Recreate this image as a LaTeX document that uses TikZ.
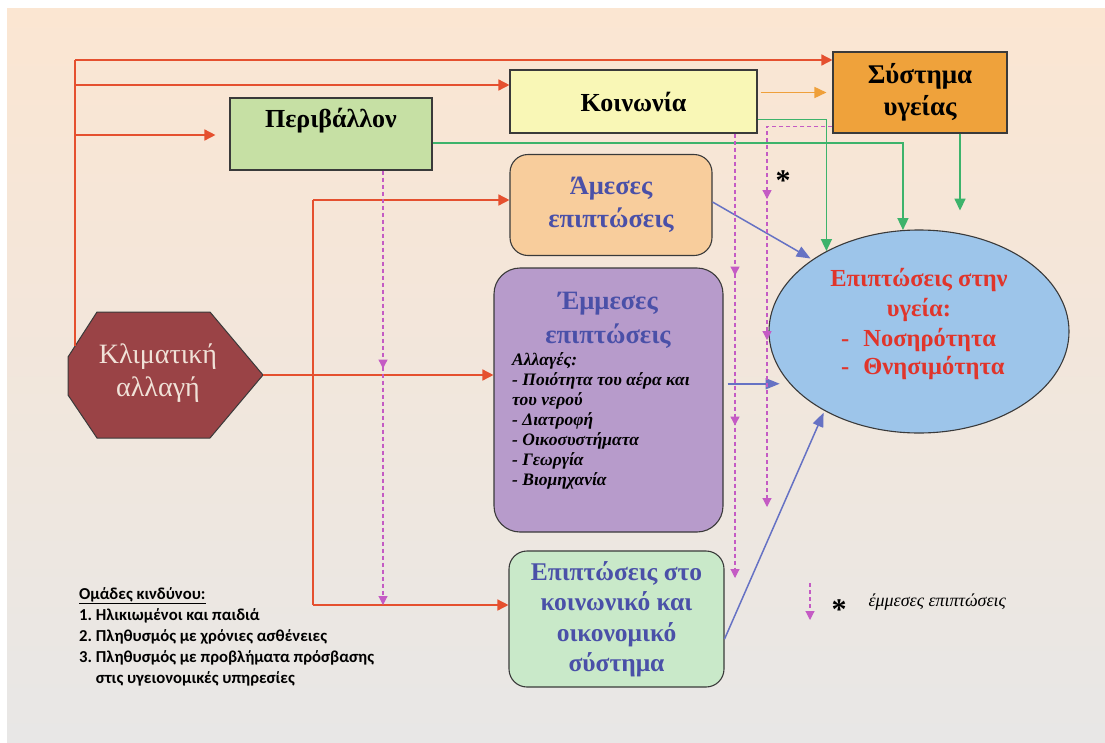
\documentclass[tikz,border=0pt]{standalone}
\usepackage{fontspec}
\setmainfont{Liberation Serif}
\newfontfamily\riskfont{Carlito}
\usetikzlibrary{arrows.meta,positioning,decorations.markings,calc,shapes.geometric}

\definecolor{bgtop}{HTML}{FBE6D2}
\definecolor{bgmid}{HTML}{F3EAE0}
\definecolor{bgbot}{HTML}{E8E7E6}
\definecolor{edgegray}{HTML}{3A3A3A}
\definecolor{linered}{HTML}{E5502F}
\definecolor{linegreen}{HTML}{3DB36B}
\definecolor{lineorange}{HTML}{EFA03A}
\definecolor{lineblue}{HTML}{6672C4}
\definecolor{dashpink}{HTML}{C45BC4}
\definecolor{perivfill}{HTML}{C6E0A4}
\definecolor{koinfill}{HTML}{F9F7B6}
\definecolor{sysfill}{HTML}{EFA23B}
\definecolor{amesafill}{HTML}{F8CD9C}
\definecolor{emmfill}{HTML}{B79BCB}
\definecolor{epiptfill}{HTML}{C9E9C9}
\definecolor{healthfill}{HTML}{9DC5EA}
\definecolor{climfill}{HTML}{9A4346}
\definecolor{climtext}{HTML}{F0E2D8}
\definecolor{titleblue}{HTML}{4A50A8}
\definecolor{healthred}{HTML}{E0352B}

\tikzset{
  dtip/.tip={Triangle[length=9pt,width=9pt]},
  box/.style={draw=edgegray, line width=1.1pt, align=center, inner sep=0pt,
    font=\bfseries\fontsize{26}{32}\selectfont},
  rbox/.style={box, rounded corners=18pt, text=titleblue,
    font=\bfseries\fontsize{26.5}{33}\selectfont},
  redarr/.style={draw=linered, line width=1.5pt, -{Triangle[length=11pt,width=11pt]}},
  redln/.style={draw=linered, line width=1.5pt},
  grarr/.style={draw=linegreen, line width=1.6pt, -{Triangle[length=12pt,width=11pt]}},
  bluarr/.style={draw=lineblue, line width=1.5pt, -{Triangle[length=14pt,width=11pt]}},
  dashln/.style={draw=dashpink, line width=1.1pt, dash pattern=on 4pt off 3pt, -dtip},
}

\begin{document}
\begin{tikzpicture}[x=1pt,y=-1pt]
  \useasboundingbox (0,0) rectangle (1105,742);
  \fill[white] (0,0) rectangle (1105,742);
  \shade[top color=bgtop, middle color=bgmid, bottom color=bgbot] (7,8) rectangle (1105,742);

  % boxes
  \node[box, fill=perivfill, minimum width=202, minimum height=72,
        text height=25pt, text depth=39pt] (periv) at (331,134) {Περιβάλλον};
  \node[box, fill=koinfill, minimum width=247, minimum height=63] (koin) at (633.5,101.5) {Κοινωνία};
  \node[box, fill=sysfill, minimum width=174, minimum height=81,
        font=\bfseries\fontsize{27}{32}\selectfont] (sys) at (920,92.5) {Σύστημα\\υγείας};
  \node[rbox, fill=amesafill, minimum width=202, minimum height=101] (amesa) at (611,205) {Άμεσες\\επιπτώσεις};
  \node[rbox, fill=emmfill, minimum width=229, minimum height=264, rounded corners=26pt] (emm) at (608.5,400) {};
  \node[text=titleblue, font=\bfseries\fontsize{26.5}{34}\selectfont, align=center] (emmtitle) at (608,320) {Έμμεσες\\επιπτώσεις};
  \node[anchor=west, inner sep=0pt, align=left, font=\bfseries\itshape\fontsize{17.5}{20}\selectfont] (emmlist) at (512,421)
    {Αλλαγές:\\- Ποιότητα του αέρα και\\του νερού\\- Διατροφή\\- Οικοσυστήματα\\- Γεωργία\\- Βιομηχανία};
  \node[rbox, fill=epiptfill, minimum width=215, minimum height=136, font=\bfseries\fontsize{25.5}{30.5}\selectfont]
    (epipt) at (616.5,619) {Επιπτώσεις στο\\κοινωνικό και\\οικονομικό\\σύστημα};

  % health outcomes
  \node[ellipse, draw=edgegray, line width=1.1pt, fill=healthfill, minimum width=300, minimum height=203,
        inner sep=0pt] (health) at (919,331.5) {};
  \node[text=healthred, font=\bfseries\fontsize{24.5}{30}\selectfont, align=center] (healthtop) at (919,295)
    {Επιπτώσεις στην\\υγεία:};
  \node[text=healthred, font=\bfseries\fontsize{24.5}{28}\selectfont, align=left, anchor=west, inner sep=0pt]
    (healthlist) at (841,353.5) {-\hspace{14pt}Νοσηρότητα\\-\hspace{14pt}Θνησιμότητα};

  % climate change
  \draw[draw=edgegray, line width=1pt, fill=climfill]
    (97,312) -- (210,312) -- (263,375) -- (210,438) -- (97,438) -- (68,395) -- (68,357) -- cycle;
  \node[text=climtext, font=\fontsize{28}{33}\selectfont, align=center] (clim) at (158,373) {Κλιματική\\αλλαγή};

  \coordinate (climtl) at (75,346);
  \coordinate (climr) at (263,375);
  \coordinate (trunka) at (75,60);
  \coordinate (trunkb) at (75,85);
  \coordinate (trunkc) at (75,135);
  \coordinate (brancht) at (313,200);
  \coordinate (branchb) at (313,605);

  % red
  \draw[redln] (climtl) -- (trunka);
  \draw[redarr] (trunka) -- (trunka -| sys.west);
  \draw[redarr] (trunkb) -- (trunkb -| koin.west);
  \draw[redarr, shorten >=14pt] (trunkc) -- (trunkc -| periv.west);
  \draw[redarr] (climr) -- (climr -| emm.west);
  \draw[redln] (brancht) -- (branchb);
  \draw[redarr] (brancht) -- (brancht -| amesa.west);
  \draw[redarr] (branchb) -- (branchb -| epipt.west);

  % green and orange
  \draw[grarr] ([yshift=-9pt]periv.east) -| (health.99);
  \draw[grarr] ([yshift=-18pt]koin.east) -| (health.139);
  \draw[grarr] ([xshift=40pt]sys.south) -- ++(0,77);
  \draw[draw=lineorange, line width=1.6pt, -{Triangle[length=12pt,width=11pt]}, shorten <=3pt, shorten >=6pt]
    (koin.east |- sys.west) -- (sys.west);

  % blue
  \draw[bluarr, shorten >=2pt] ([yshift=3pt]amesa.east) -- (health.146);
  \draw[bluarr, shorten >=10pt] ([xshift=4pt]emm.east |- health.202) -- (health.202);
  \draw[bluarr, shorten >=2pt] ([yshift=-20pt]epipt.east) -- (health.220);

  % indirect effects
  \coordinate (dashr) at (767,507);
  \coordinate (dashm) at (735,578);
  \coordinate (dashl) at (383,605);
  \draw[dashln, postaction={decorate}, decoration={markings,
      mark=at position 138pt with {\arrow{dtip}},
      mark=at position 279pt with {\arrow{dtip}}}]
    ([yshift=-34pt]sys.west) -| (dashr);
  \draw[dashln, postaction={decorate}, decoration={markings,
      mark=at position 142pt with {\arrow{dtip}},
      mark=at position 292pt with {\arrow{dtip}}}]
    ([xshift=101.5pt]koin.south) -- (dashm);
  \draw[dashln, postaction={decorate}, decoration={markings,
      mark=at position 198pt with {\arrow{dtip}}}]
    ([xshift=52pt]periv.south) -- (dashl);
  \node[font=\bfseries\fontsize{30}{30}\selectfont] (star) at (783,181) {*};

  % legend
  \coordinate (lega) at (810,583);
  \coordinate (legb) at (810,620);
  \draw[dashln] (lega) -- (legb);
  \node[font=\bfseries\fontsize{30}{30}\selectfont] (legstar) at (839,610) {*};
  \node[anchor=west, font=\itshape\fontsize{18}{18}\selectfont] (legtxt) at (865,602) {έμμεσες επιπτώσεις};

  % risk groups
  \node[anchor=west, inner sep=0pt, font=\riskfont\bfseries\fontsize{16.7}{21}\selectfont] (risk) at (79,637)
    {\begin{tabular}{@{}l@{\ }l@{}}
      \multicolumn{2}{@{}l}{\underline{Ομάδες κινδύνου:}}\\
      1. & Ηλικιωμένοι και παιδιά\\
      2. & Πληθυσμός με χρόνιες ασθένειες\\
      3. & Πληθυσμός με προβλήματα πρόσβασης\\
         & στις υγειονομικές υπηρεσίες
    \end{tabular}};
\end{tikzpicture}
\end{document}
